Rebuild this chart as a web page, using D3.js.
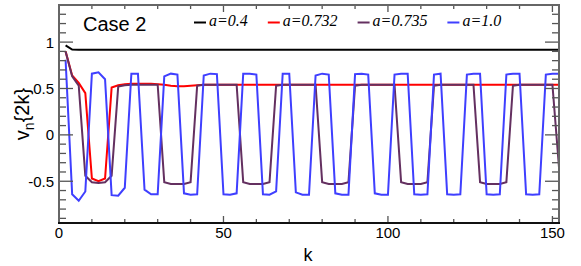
<!DOCTYPE html>
<html>
<head>
<meta charset="utf-8">
<script src="https://cdn.jsdelivr.net/npm/d3@7"></script>
<style>
  body { margin: 0; background: #fff; }
  svg { display: block; }
</style>
</head>
<body>
<script>
// k values (step 2)
const kValues = d3.range(2, 153, 2);

const seriesLabels = ["a=0.4", "a=0.732", "a=0.735", "a=1.0"];
const seriesColors = ["#000000", "#ff0000", "#643060", "#3f3fff"];

const vA04 = [0.965, 0.92, 0.918, 0.918, 0.918, 0.918, 0.918, 0.918, 0.918, 0.918,
  0.918, 0.918, 0.918, 0.918, 0.918, 0.918, 0.918, 0.918, 0.918, 0.918,
  0.918, 0.918, 0.918, 0.918, 0.918, 0.918, 0.918, 0.918, 0.918, 0.918,
  0.918, 0.918, 0.918, 0.918, 0.918, 0.918, 0.918, 0.918, 0.918, 0.918,
  0.918, 0.918, 0.918, 0.918, 0.918, 0.918, 0.918, 0.918, 0.918, 0.918,
  0.918, 0.918, 0.918, 0.918, 0.918, 0.918, 0.918, 0.918, 0.918, 0.918,
  0.918, 0.918, 0.918, 0.918, 0.918, 0.918, 0.918, 0.918, 0.918, 0.918,
  0.918, 0.918, 0.918, 0.918, 0.918, 0.918];

const vA0732 = [0.90, 0.64, 0.56, 0.45, -0.47, -0.50, -0.47, 0.51, 0.535, 0.545,
  0.55, 0.55, 0.55, 0.55, 0.545, 0.54, 0.53, 0.525, 0.525, 0.53,
  0.535, 0.54, 0.54, 0.54, 0.54, 0.54, 0.54, 0.54, 0.54, 0.54,
  0.54, 0.54, 0.54, 0.54, 0.54, 0.54, 0.54, 0.54, 0.54, 0.54,
  0.54, 0.54, 0.54, 0.54, 0.54, 0.54, 0.54, 0.54, 0.54, 0.54,
  0.54, 0.54, 0.54, 0.54, 0.54, 0.54, 0.54, 0.54, 0.54, 0.54,
  0.54, 0.54, 0.54, 0.54, 0.54, 0.54, 0.54, 0.54, 0.54, 0.54,
  0.54, 0.54, 0.54, 0.54, 0.54, 0.54];

const vA0735 = [0.90, 0.63, 0.53, -0.44, -0.51, -0.52, -0.51, -0.44, 0.52, 0.535,
  0.54, 0.54, 0.54, 0.54, 0.54, -0.51, -0.53, -0.53, -0.53, -0.51,
  0.53, 0.54, 0.54, 0.54, 0.54, 0.54, 0.54, -0.51, -0.53, -0.53,
  -0.53, -0.51, 0.53, 0.54, 0.54, 0.54, 0.54, 0.54, 0.54, -0.51,
  -0.53, -0.53, -0.53, -0.51, 0.53, 0.54, 0.54, 0.54, 0.54, 0.54,
  0.54, -0.51, -0.53, -0.53, -0.53, -0.51, 0.53, 0.54, 0.54, 0.54,
  0.54, 0.54, 0.54, -0.51, -0.53, -0.53, -0.53, -0.51, 0.53, 0.54,
  0.54, 0.54, 0.54, 0.54, 0.54, -0.35];

const vA10 = [0.81, -0.64, -0.71, -0.61, 0.66, 0.675, 0.60, -0.65, -0.655, -0.57,
  0.66, 0.66, -0.59, -0.64, -0.64, 0.63, 0.66, 0.65, -0.63, -0.645,
  -0.64, 0.64, 0.66, 0.655, -0.64, -0.645, -0.63, 0.66, 0.66, 0.65,
  -0.64, -0.645, -0.61, 0.66, 0.66, -0.62, -0.645, -0.645, 0.64, 0.66,
  0.65, -0.63, -0.645, -0.645, 0.655, 0.66, 0.65, -0.63, -0.645, -0.645,
  0.65, 0.66, 0.66, -0.64, -0.645, -0.64, 0.65, 0.66, -0.64, -0.645,
  -0.64, 0.65, 0.66, 0.66, -0.64, -0.645, -0.64, 0.65, 0.66, 0.66,
  -0.64, -0.645, -0.64, 0.65, 0.66, 0.66];

const seriesValues = [vA04, vA0732, vA0735, vA10];

const xTicksMajor = [0, 50, 100, 150];
const yTicksMajor = [-0.5, 0, 0.5, 1];
const yTickLabels = ["-0.5", "0", "0.5", "1"];

const width = 581, height = 266;
const margin = {top: 5, right: 22, bottom: 43, left: 59};
const plotW = width - margin.left - margin.right;
const plotH = height - margin.top - margin.bottom;

const svg = d3.select("body").append("svg")
  .attr("width", width)
  .attr("height", height)
  .style("font-family", "'Liberation Sans', Arial, sans-serif");

const x = d3.scaleLinear().domain([0, 152]).range([margin.left, margin.left + plotW]);
const y = d3.scaleLinear().domain([-0.95, 1.4]).range([margin.top + plotH, margin.top]);

svg.append("clipPath").attr("id", "clip")
  .append("rect")
  .attr("x", margin.left).attr("y", margin.top)
  .attr("width", plotW).attr("height", plotH);

// series
const line = d3.line().x((d, i) => x(kValues[i])).y(d => y(d));
const plot = svg.append("g").attr("clip-path", "url(#clip)");
seriesValues.forEach((vals, i) => {
  plot.append("path")
    .datum(vals)
    .attr("d", line)
    .attr("fill", "none")
    .attr("stroke", seriesColors[i])
    .attr("stroke-width", 2)
    .attr("stroke-linejoin", "miter");
});

// ticks (ROOT-like: inward, on all four sides)
const tickColor = "#555";
const xMinor = d3.range(0, 151, 10);
const yMinor = d3.range(-0.9, 1.41, 0.1).map(v => Math.round(v * 10) / 10);
const isMajorY = v => Math.abs(v * 2 - Math.round(v * 2)) < 1e-6;
const isMajorX = v => v % 50 === 0;

const ticks = svg.append("g").attr("stroke", tickColor).attr("stroke-width", 1.3);
xMinor.forEach(v => {
  const len = isMajorX(v) ? 7 : 4;
  ticks.append("line").attr("x1", x(v)).attr("x2", x(v))
    .attr("y1", margin.top + plotH).attr("y2", margin.top + plotH - len);
  ticks.append("line").attr("x1", x(v)).attr("x2", x(v))
    .attr("y1", margin.top).attr("y2", margin.top + len);
});
yMinor.forEach(v => {
  const len = isMajorY(v) ? 14 : 7;
  ticks.append("line").attr("y1", y(v)).attr("y2", y(v))
    .attr("x1", margin.left).attr("x2", margin.left + len);
  ticks.append("line").attr("y1", y(v)).attr("y2", y(v))
    .attr("x1", margin.left + plotW).attr("x2", margin.left + plotW - len);
});

// frame
svg.append("rect")
  .attr("x", margin.left).attr("y", margin.top)
  .attr("width", plotW).attr("height", plotH)
  .attr("fill", "none").attr("stroke", "#666").attr("stroke-width", 2);
svg.append("line")
  .attr("x1", margin.left - 1).attr("x2", margin.left + plotW + 1)
  .attr("y1", margin.top + plotH).attr("y2", margin.top + plotH)
  .attr("stroke", "#111").attr("stroke-width", 2);

// tick labels
svg.append("g").selectAll("text")
  .data(xTicksMajor).enter().append("text")
  .attr("x", d => x(d)).attr("y", 238)
  .attr("text-anchor", "middle")
  .attr("font-size", 15)
  .text(d => d);

svg.append("g").selectAll("text")
  .data(yTicksMajor).enter().append("text")
  .attr("x", 54).attr("y", d => y(d) + 5.5)
  .attr("text-anchor", "end")
  .attr("font-size", 15)
  .text((d, i) => yTickLabels[i]);

// axis titles
svg.append("text")
  .attr("x", 308).attr("y", 261)
  .attr("text-anchor", "middle")
  .attr("font-size", 18)
  .text("k");

const yt = svg.append("text")
  .attr("transform", "translate(29,114) rotate(-90)")
  .attr("text-anchor", "middle")
  .attr("font-size", 20);
yt.append("tspan").text("v");
yt.append("tspan").attr("font-size", 14).attr("dy", 5).text("n");
yt.append("tspan").attr("dy", -5).text("{2k}");

// case label
svg.append("text")
  .attr("x", 83).attr("y", 30.5)
  .attr("font-size", 20)
  .text("Case 2");

// legend
let lx = 194;
const ly = 22.5;
seriesLabels.forEach((lab, i) => {
  svg.append("line")
    .attr("x1", lx).attr("x2", lx + 12)
    .attr("y1", ly).attr("y2", ly)
    .attr("stroke", seriesColors[i]).attr("stroke-width", 2);
  const t = svg.append("text")
    .attr("x", lx + 15).attr("y", ly + 3)
    .attr("font-family", "'Liberation Serif', 'Times New Roman', serif")
    .attr("font-style", "italic")
    .attr("font-size", 16)
    .text(lab);
  lx = lx + 15 + t.node().getComputedTextLength() + 20;
});
</script>
</body>
</html>
